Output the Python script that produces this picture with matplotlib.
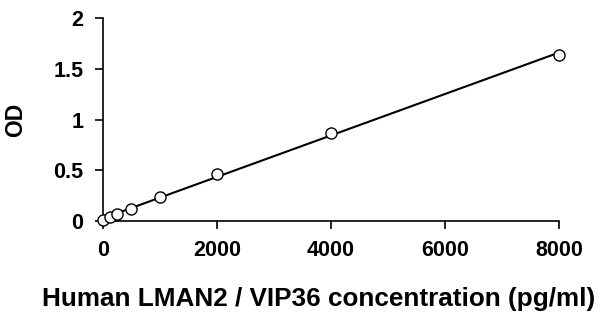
import numpy as np
import matplotlib.pyplot as plt

plt.rcParams['font.family'] = ['Liberation Sans', 'DejaVu Sans']
plt.rcParams['font.weight'] = 'bold'

# Standard curve data
conc = np.array([0, 125, 250, 500, 1000, 2000, 4000, 8000])
od = np.array([0.01, 0.04, 0.07, 0.12, 0.24, 0.46, 0.87, 1.64])

# Linear trendline
slope, intercept = np.polyfit(conc, od, 1)
xfit = np.array([0, 8000])

fig = plt.figure(figsize=(6.01, 3.18), dpi=100)
ax = fig.add_axes([0.171, 0.305, 0.759, 0.638])
ax.plot(xfit, slope * xfit + intercept, color='black', lw=1.5, zorder=2)
ax.plot(conc, od, 'o', mfc='white', mec='black', ms=8, mew=1.0, zorder=3, clip_on=False)

ax.set_xlim(0, 8000)
ax.set_ylim(0, 2)
ax.set_xticks([0, 2000, 4000, 6000, 8000])
ax.set_yticks([0, 0.5, 1, 1.5, 2])
ax.set_yticklabels(['0', '0.5', '1', '1.5', '2'])
ax.spines['top'].set_visible(False)
ax.spines['right'].set_visible(False)
ax.spines['left'].set_linewidth(1.2)
ax.spines['bottom'].set_linewidth(1.2)
ax.tick_params(direction='out', length=6, width=1.2, labelsize=15.5, pad=8)
for lbl in ax.get_xticklabels() + ax.get_yticklabels():
    lbl.set_fontweight('bold')

ax.set_xlabel("Human LMAN2 / VIP36 concentration (pg/ml)", fontsize=18.8, fontweight='bold')
ax.xaxis.set_label_coords(0.474, -0.325)
ax.set_ylabel("OD", fontsize=16.5, fontweight='bold')
ax.yaxis.set_label_coords(-0.165, 0.5)

fig.savefig("out.png", dpi=100)
